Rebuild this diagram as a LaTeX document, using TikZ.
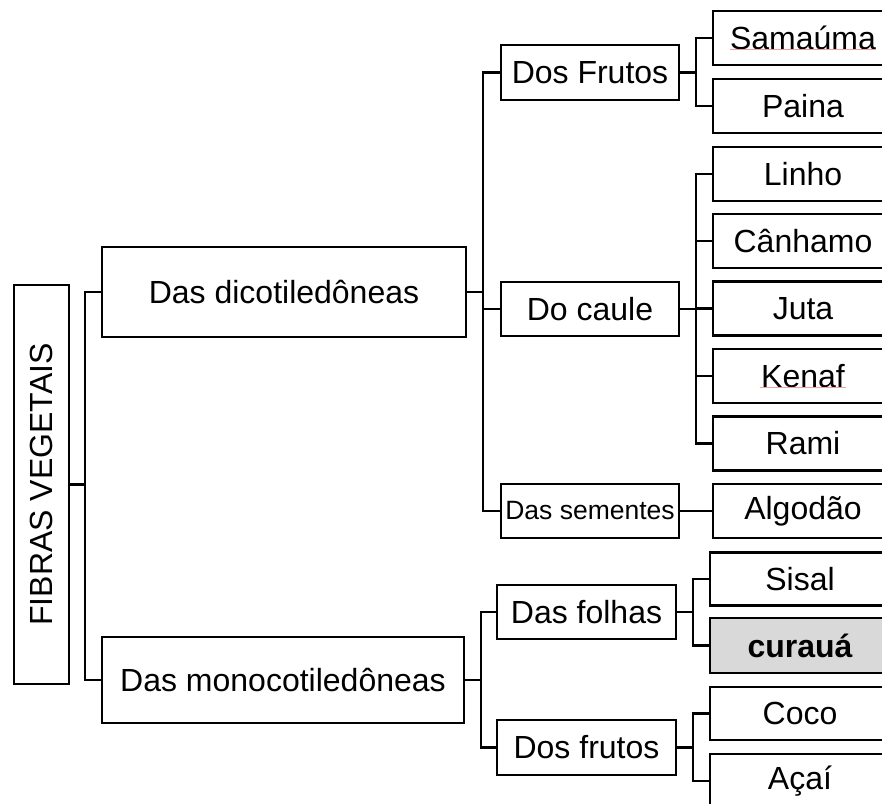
\documentclass[tikz,border=0pt]{standalone}
\usepackage{fontspec}
\setmainfont{Liberation Sans}
\usetikzlibrary{calc}
\definecolor{boxgray}{RGB}{217,217,217}
\definecolor{spell}{RGB}{240,160,160}
\begin{document}
\begin{tikzpicture}[x=1pt,y=-1pt,
  box/.style={draw,line width=2.4pt,inner sep=0pt,outer sep=0pt,align=center,
    font=\fontsize{32}{37}\selectfont},
  small/.style={font=\fontsize{26.5}{30}\selectfont},
  link/.style={line width=2.4pt},
  squig/.style={spell,line width=0.8pt}]
\useasboundingbox (0,0) rectangle (882,803);
\clip (0,0) rectangle (882,803);

% root
\node[box,minimum width=55pt,minimum height=399pt] (fv) at (41.5,484.5)
  {\rotatebox{90}{FIBRAS VEGETAIS}};

% classes
\node[box,minimum width=364pt,minimum height=90pt] (dico) at (284,292) {Das dicotiled\^oneas};
\node[box,minimum width=362pt,minimum height=86pt] (mono) at (283,680) {Das monocotiled\^oneas};

% plant parts
\node[box,minimum width=178pt,minimum height=55pt] (frutosA) at (590,72.5) {Dos Frutos};
\node[box,minimum width=178pt,minimum height=54pt] (caule) at (590,309) {Do caule};
\node[box,small,minimum width=178pt,minimum height=54pt] (sementes) at (590,511) {Das sementes};
\node[box,minimum width=179pt,minimum height=54pt] (folhas) at (586.5,612) {Das folhas};
\node[box,minimum width=179pt,minimum height=55pt] (frutosB) at (586.5,747.5) {Dos frutos};

% fibres
\node[box,minimum width=180pt,minimum height=54pt] (samauma) at (803,38) {Sama\'uma};
\node[box,minimum width=180pt,minimum height=54pt] (paina) at (803,106) {Paina};
\node[box,minimum width=180pt,minimum height=54pt] (linho) at (803,174) {Linho};
\node[box,minimum width=180pt,minimum height=54pt] (canhamo) at (803,241) {C\^anhamo};
\node[box,minimum width=180pt,minimum height=54pt] (juta) at (803,308.5) {Juta};
\node[box,minimum width=180pt,minimum height=54pt] (kenaf) at (803,376) {Kenaf};
\node[box,minimum width=180pt,minimum height=54pt] (rami) at (803,443.5) {Rami};
\node[box,minimum width=180pt,minimum height=54pt] (algodao) at (803,511) {Algod\~ao};
\node[box,minimum width=180pt,minimum height=53pt] (sisal) at (800,579) {Sisal};
\node[box,fill=boxgray,minimum width=180pt,minimum height=55pt] (curaua) at (800,645.5) {\bfseries curau\'a};
\node[box,minimum width=180pt,minimum height=53pt] (coco) at (800,713.5) {Coco};
\node[box,minimum width=180pt,minimum height=54pt] (acai) at (800,781) {A\c{c}a\'i};

% spelling marks under two words
\draw[squig] ($(samauma.center)+(-73,11.5)$) -- ++(146,0);
\draw[squig] ($(kenaf.center)+(-43,11.5)$) -- ++(86,0);

% connectors
\draw[link] (fv.east) -- ++(16,0) |- (dico.west);
\draw[link] (fv.east) -- ++(16,0) |- (mono.west);

\draw[link] (dico.east) -- ++(17,0) |- (frutosA.west);
\draw[link] (dico.east) -- ++(17,0) |- (caule.west);
\draw[link] (dico.east) -- ++(17,0) |- (sementes.west);

\draw[link] (mono.east) -- ++(17,0) |- (folhas.west);
\draw[link] (mono.east) -- ++(17,0) |- (frutosB.west);

\draw[link] (frutosA.east) -- ++(17,0) |- (samauma.west);
\draw[link] (frutosA.east) -- ++(17,0) |- (paina.west);

\foreach \f in {linho,canhamo,juta,kenaf,rami}
  \draw[link] (caule.east) -- ++(17,0) |- (\f.west);

\draw[link] (sementes.east) -- (algodao.west);

\draw[link] (folhas.east) -- ++(17,0) |- (sisal.west);
\draw[link] (folhas.east) -- ++(17,0) |- (curaua.west);

\draw[link] (frutosB.east) -- ++(17,0) |- (coco.west);
\draw[link] (frutosB.east) -- ++(17,0) |- (acai.west);
\end{tikzpicture}
\end{document}
